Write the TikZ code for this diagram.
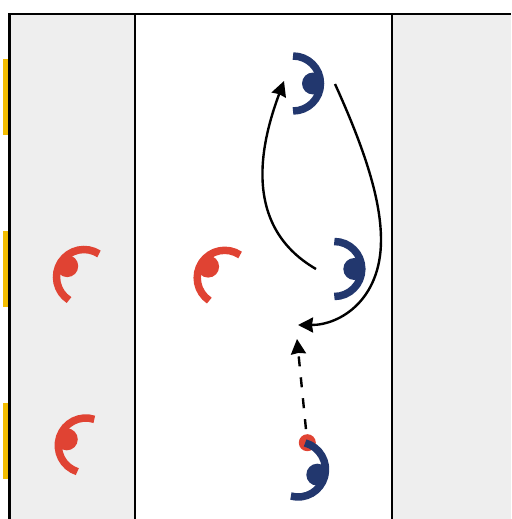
\documentclass[tikz,border=0pt]{standalone}
\usepackage{tikz}
\usetikzlibrary{arrows.meta}
\definecolor{teamred}{HTML}{E04333}
\definecolor{teamblue}{HTML}{22376E}
\definecolor{cone}{HTML}{F2BC00}
\definecolor{zone}{HTML}{EEEEEE}
\tikzstyle{head}=[circle,minimum size=22pt,inner sep=0pt]
\tikzstyle{ball}=[circle,fill=teamred,minimum size=17pt,inner sep=0pt]
\tikzstyle{run} = [draw,line width=2.4pt,-{Stealth[length=15pt,width=15pt,inset=1pt]}]
\tikzstyle{pass} = [run,dash pattern=on 10pt off 11pt]
\begin{document}
\begin{tikzpicture}[x=1pt,y=-1pt]
  \useasboundingbox (0,0) rectangle (511,519);

  % zones and pitch lines
  \fill[zone] (10,14) rectangle (135,519);
  \fill[zone] (392,14) rectangle (511,519);
  \draw[line width=1.6pt] (135,14) -- (135,519);
  \draw[line width=1.6pt] (392,14) -- (392,519);
  \draw[line width=2.8pt] (9.7,519) -- (9.7,14) -- (511,14);

  \foreach \y in {59,231,403}
    \fill[cone] (3,\y) rectangle (8,\y+76);

  \node[ball] (pallone) at (307.3,442.7) {};

  % players: arc centre, facing angle
  \foreach \x/\y/\angle/\name/\team in {{84/277/147/R1/teamred}, {224.7/277.8/146/R2/teamred}, {85.8/445.5/162/R3/teamred}, {293/83.5/0/B1/teamblue}, {334.3/269/0/B2/teamblue}, {298/469.5/-15/B3/teamblue}}
  {
    \begin{scope}[shift={(\x,\y)},rotate=\angle]
      \draw[\team,line width=7.5pt] (90:27.5pt) arc (90:-90:27.5pt);
      \node[head,fill=\team] (\name) at (20pt,0pt) {};
    \end{scope}
  }

  \coordinate (run1a) at (316,269);
  \coordinate (run1b) at (284,81);
  \coordinate (run2a) at (335,84);
  \coordinate (run2m) at (381,240);
  \coordinate (run2b) at (298,325);
  \coordinate (passb) at (297,339);

  \path[run] (run1a) .. controls (240,225) and (262,140) .. (run1b);
  \path[run] (run2a) .. controls (365,150) and (381,200) .. (run2m) .. controls (381,300) and (340,325) .. (run2b);
  \path[pass,shorten <=5pt] (pallone) -- (passb);

\end{tikzpicture}
\end{document}
